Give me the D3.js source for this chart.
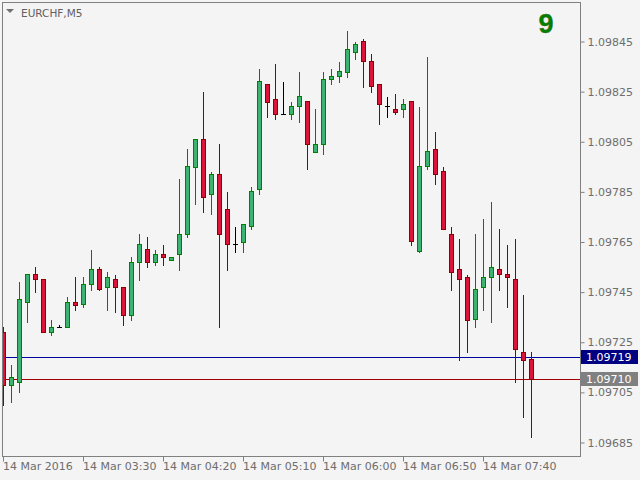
<!DOCTYPE html>
<html><head><meta charset="utf-8">
<script src="https://cdn.jsdelivr.net/npm/d3@7"></script>
<style>body{margin:0;background:#f4f4f4;overflow:hidden}</style>
</head><body>
<svg id="chart" width="640" height="480"></svg>
<script>
const symbolLabel = "EURCHF,M5";
const badge = "9";
const timeLabels = ["14 Mar 2016","14 Mar 03:30","14 Mar 04:20","14 Mar 05:10","14 Mar 06:00","14 Mar 06:50","14 Mar 07:40"];
const timeTickIndex = [0,10,20,30,40,50,60];
const priceTicks = [1.09685,1.09705,1.09725,1.09745,1.09765,1.09785,1.09805,1.09825,1.09845];
const openP = [1.09729,1.09708,1.09709,1.09741,1.09752,1.09750,1.09729,1.09731,1.09731,1.09741,
1.09740,1.09748,1.09754,1.09747,1.09750,1.09747,1.09736,1.09757,1.09762,1.09757,
1.09760,1.09758,1.09760,1.09768,1.09795,1.09806,1.09784,1.09792,1.09778,1.09764,
1.09765,1.09771,1.09786,1.09828,1.09822,1.09816,1.09816,1.09819,1.09821,1.09801,
1.09804,1.09830,1.09831,1.09833,1.09841,1.09845,1.09837,1.09828,1.09819,1.09818,
1.09818,1.09821,1.09761,1.09795,1.09802,1.09793,1.09768,1.09754,1.09751,1.09734,
1.09747,1.09751,1.09754,1.09752,1.09750,1.09721,1.09718];
const highP = [1.09731,1.09716,1.09749,1.09752,1.09755,1.09750,1.09734,1.09732,1.09743,1.09751,
1.09751,1.09762,1.09755,1.09753,1.09752,1.09747,1.09759,1.09768,1.09767,1.09762,
1.09764,1.09759,1.09790,1.09802,1.09806,1.09825,1.09793,1.09804,1.09785,1.09771,
1.09772,1.09787,1.09834,1.09828,1.09836,1.09829,1.09821,1.09833,1.09821,1.09818,
1.09833,1.09834,1.09837,1.09849,1.09845,1.09846,1.09840,1.09828,1.09823,1.09824,
1.09822,1.09821,1.09819,1.09839,1.09809,1.09795,1.09771,1.09766,1.09752,1.09768,
1.09774,1.09781,1.09770,1.09764,1.09766,1.09744,1.09721];
const lowP = [1.09700,1.09701,1.09705,1.09733,1.09745,1.09729,1.09728,1.09731,1.09731,1.09738,
1.09739,1.09746,1.09746,1.09738,1.09737,1.09732,1.09734,1.09750,1.09755,1.09756,
1.09756,1.09758,1.09754,1.09767,1.09780,1.09777,1.09776,1.09731,1.09754,1.09761,
1.09761,1.09770,1.09784,1.09815,1.09814,1.09816,1.09814,1.09813,1.09794,1.09801,
1.09800,1.09828,1.09829,1.09831,1.09838,1.09827,1.09825,1.09812,1.09815,1.09816,
1.09815,1.09764,1.09761,1.09794,1.09788,1.09770,1.09746,1.09718,1.09721,1.09731,
1.09738,1.09733,1.09746,1.09739,1.09709,1.09695,1.09687];
const closeP = [1.09708,1.09711,1.09742,1.09752,1.09750,1.09729,1.09731,1.09731,1.09741,1.09740,
1.09748,1.09754,1.09746,1.09751,1.09747,1.09736,1.09757,1.09764,1.09757,1.09760,
1.09759,1.09759,1.09768,1.09795,1.09806,1.09783,1.09792,1.09768,1.09764,1.09764,
1.09772,1.09785,1.09829,1.09821,1.09816,1.09816,1.09819,1.09823,1.09804,1.09804,
1.09830,1.09831,1.09833,1.09842,1.09844,1.09837,1.09827,1.09820,1.09819,1.09817,
1.09820,1.09765,1.09795,1.09801,1.09792,1.09770,1.09753,1.09750,1.09734,1.09746,
1.09751,1.09755,1.09752,1.09751,1.09722,1.09718,1.09710];
const blueLevel = 1.09719;
const lastPrice = 1.09710;

const svg = d3.select("#chart");
const W = 640, H = 480;
const plot = {left: 2.5, top: 2.5, right: 580.5, bottom: 456.5};
const bg = "#f4f4f4", axisCol = "#808080", textCol = "#6e6e6e";
const font = "DejaVu Sans, Verdana, sans-serif";

svg.append("rect").attr("width", W).attr("height", H).attr("fill", bg);

const n = openP.length;
const x = d3.scaleLinear().domain([0, n - 1]).range([3.5, 3.5 + 8 * (n - 1)]);
const y = d3.scaleLinear().domain([1.09685, 1.09845]).range([442.5, 41.5]);
const snap = v => Math.round(v - 0.5) + 0.5;

svg.append("clipPath").attr("id", "clip").append("rect")
  .attr("x", 3).attr("y", 3).attr("width", 577).attr("height", 453);

const g = svg.append("g").attr("clip-path", "url(#clip)");

g.append("line").attr("x1", 3).attr("x2", 580)
  .attr("y1", snap(y(blueLevel))).attr("y2", snap(y(blueLevel)))
  .style("stroke", "rgb(0,0,160)").style("stroke-width", "1px");
g.append("line").attr("x1", 3).attr("x2", 580)
  .attr("y1", snap(y(lastPrice))).attr("y2", snap(y(lastPrice)))
  .style("stroke", "rgb(160,0,0)").style("stroke-width", "1px");

const candles = d3.range(n).map(i => ({i, o: openP[i], h: highP[i], l: lowP[i], c: closeP[i]}));
const isDoji = d => Math.abs(d.o - d.c) < 1e-9;
const colorOf = d => isDoji(d) ? {line: "#000000", fill: "#000000"} :
  (d.c > d.o ? {line: "#008000", fill: "#3cb371"} : {line: "#8b0000", fill: "#dc143c"});

const cg = g.selectAll("g.candle").data(candles).join("g").attr("class", "candle");
cg.append("line")
  .attr("x1", d => x(d.i)).attr("x2", d => x(d.i))
  .attr("y1", d => Math.round(y(d.h))).attr("y2", d => Math.round(y(d.l)) + 1)
  .attr("stroke", d => colorOf(d).line).attr("stroke-width", 1);
cg.filter(d => !isDoji(d)).append("rect")
  .attr("x", d => x(d.i) - 2).attr("width", 4)
  .attr("y", d => snap(Math.min(y(d.o), y(d.c))))
  .attr("height", d => Math.max(1, Math.round(Math.abs(y(d.o) - y(d.c)))))
  .attr("fill", d => colorOf(d).fill).attr("stroke", d => colorOf(d).line).attr("stroke-width", 1);
cg.filter(d => isDoji(d)).append("line")
  .attr("x1", d => x(d.i) - 2.5).attr("x2", d => x(d.i) + 2.5)
  .attr("y1", d => snap(y(d.o))).attr("y2", d => snap(y(d.o)))
  .attr("stroke", "#000").attr("stroke-width", 1);

svg.append("rect").attr("x", plot.left).attr("y", plot.top)
  .attr("width", plot.right - plot.left).attr("height", plot.bottom - plot.top)
  .attr("fill", "none").attr("stroke", axisCol).attr("stroke-width", 1);

const yAxis = d3.axisRight(y).tickValues(priceTicks).tickSize(4).tickPadding(3)
  .tickFormat(d3.format(".5f"));
const ya = svg.append("g").attr("transform", `translate(${plot.right},0)`).call(yAxis);
ya.select(".domain").remove();
ya.selectAll(".tick line").attr("stroke", axisCol);
ya.selectAll(".tick text").attr("fill", textCol).attr("font-family", font).attr("font-size", 11);

const xAxis = d3.axisBottom(x).tickValues(timeTickIndex).tickSize(5)
  .tickFormat((d, k) => timeLabels[k]);
const xa = svg.append("g").attr("transform", `translate(0,${plot.bottom})`).call(xAxis);
xa.select(".domain").remove();
xa.selectAll(".tick line").attr("stroke", axisCol).attr("transform", "translate(-0.5,0)");
xa.selectAll(".tick text").attr("fill", textCol).attr("font-family", font).attr("font-size", 11)
  .attr("text-anchor", "start").attr("x", -1).attr("y", 6);

function priceBox(v, fill) {
  const yy = snap(y(v));
  svg.append("rect").attr("x", 581).attr("y", yy - 7.5).attr("width", 57).attr("height", 14).attr("fill", fill);
  svg.append("text").attr("x", 586).attr("y", yy).attr("dy", "0.35em")
    .attr("fill", "#ffffff").attr("font-family", font).attr("font-size", 11)
    .text(d3.format(".5f")(v));
}
priceBox(blueLevel, "#000080");
priceBox(lastPrice, "#808080");

svg.append("path").attr("d", "M6,9 L14,9 L10,13 Z").attr("fill", "#707070");
svg.append("text").attr("x", 21).attr("y", 13).attr("dy", "0.35em")
  .attr("fill", "#606060").attr("font-family", font).attr("font-size", 10.5).text(symbolLabel);
svg.append("text").attr("x", 546).attr("y", 24).attr("dy", "0.35em").attr("text-anchor", "middle")
  .attr("fill", "#008000").attr("stroke", "#556b2f").attr("stroke-width", 0.4)
  .attr("font-family", "Liberation Sans, Arial, sans-serif").attr("font-weight", "bold").attr("font-size", 27)
  .text(badge);
</script>
</body></html>
